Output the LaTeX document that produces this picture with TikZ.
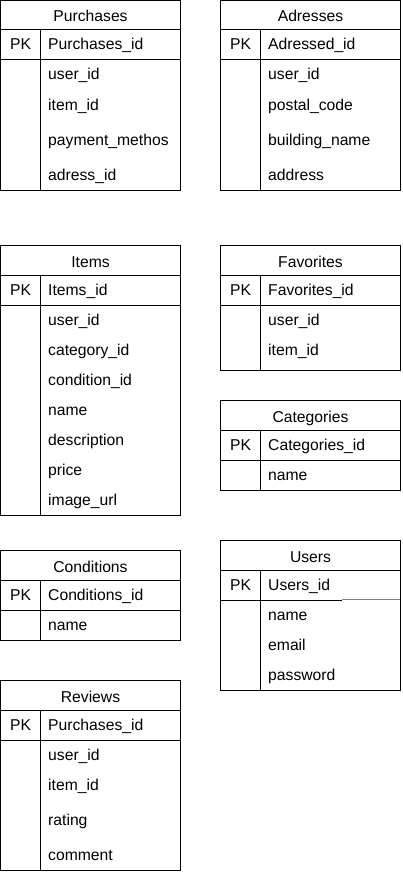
\documentclass[tikz,border=0pt]{standalone}
\usepackage{fontspec}
\setmainfont{Liberation Sans}
\usepackage{tikz}

\begin{document}
\begin{tikzpicture}[x=1pt, y=-1pt, every node/.style={font=\fontsize{15.7}{18}\selectfont, inner sep=0pt}]
        \tikzset{tbox/.style={draw=black, line width=1pt}}
        \tikzset{title/.style={anchor=base}, pk/.style={anchor=base}, field/.style={anchor=base west}}
        \useasboundingbox (0,0) rectangle (402,891);
        % purchases
        \draw[tbox] (0.5,1) rectangle (180.5,190);
        \draw[tbox] (0.5,30) -- (180.5,30) (0.5,60) -- (180.5,60) (40.5,30) -- (40.5,190);
        \node[title] (purchases) at (90.5,22) {Purchases};
        \node[pk] (purchases-pk) at (20.5,50) {PK};
        \node[field] (purchases-id) at (48,50) {Purchases\_id};
        \foreach \f/\y [count=\i] in {user\_id/74, item\_id/104, payment\_methos/139, adress\_id/174}
          \node[field] (purchases-\i) at (48,\y+6) {\f};
        % adresses
        \draw[tbox] (220.5,1) rectangle (400.5,190);
        \draw[tbox] (220.5,30) -- (400.5,30) (220.5,60) -- (400.5,60) (260.5,30) -- (260.5,190);
        \node[title] (adresses) at (310.5,22) {Adresses};
        \node[pk] (adresses-pk) at (240.5,50) {PK};
        \node[field] (adresses-id) at (268,50) {Adressed\_id};
        \foreach \f/\y [count=\i] in {user\_id/74, postal\_code/104, building\_name/139, address/174}
          \node[field] (adresses-\i) at (268,\y+6) {\f};
        % items
        \draw[tbox] (0.5,245) rectangle (180.5,515);
        \draw[tbox] (0.5,275) -- (180.5,275) (0.5,305) -- (180.5,305) (40.5,275) -- (40.5,515);
        \node[title] (items) at (90.5,267) {Items};
        \node[pk] (items-pk) at (20.5,295) {PK};
        \node[field] (items-id) at (48,295) {Items\_id};
        \foreach \f/\y [count=\i] in {user\_id/319, category\_id/349, condition\_id/379, name/409, description/439, price/469, image\_url/499}
          \node[field] (items-\i) at (48,\y+6) {\f};
        % favorites
        \draw[tbox] (220.5,245) rectangle (400.5,370);
        \draw[tbox] (220.5,275) -- (400.5,275) (220.5,305) -- (400.5,305) (260.5,275) -- (260.5,370);
        \node[title] (favorites) at (310.5,267) {Favorites};
        \node[pk] (favorites-pk) at (240.5,295) {PK};
        \node[field] (favorites-id) at (268,295) {Favorites\_id};
        \foreach \f/\y [count=\i] in {user\_id/319, item\_id/349}
          \node[field] (favorites-\i) at (268,\y+6) {\f};
        % categories
        \draw[tbox] (220.5,400) rectangle (400.5,490);
        \draw[tbox] (220.5,430) -- (400.5,430) (220.5,460) -- (400.5,460) (260.5,430) -- (260.5,490);
        \node[title] (categories) at (310.5,422) {Categories};
        \node[pk] (categories-pk) at (240.5,450) {PK};
        \node[field] (categories-id) at (268,450) {Categories\_id};
        \node[field] (categories-1) at (268,480) {name};
        % conditions
        \draw[tbox] (0.5,550) rectangle (180.5,640);
        \draw[tbox] (0.5,580) -- (180.5,580) (0.5,610) -- (180.5,610) (40.5,580) -- (40.5,640);
        \node[title] (conditions) at (90.5,572) {Conditions};
        \node[pk] (conditions-pk) at (20.5,600) {PK};
        \node[field] (conditions-id) at (48,600) {Conditions\_id};
        \node[field] (conditions-1) at (48,630) {name};
        % users
        \draw[tbox] (220.5,540) rectangle (400.5,690);
        \draw[tbox] (220.5,570) -- (400.5,570) (220.5,600) -- (342,600) (260.5,570) -- (260.5,690);
        \draw[tbox, draw=gray] (342,599) -- (400,599);
        \node[title] (users) at (310.5,562) {Users};
        \node[pk] (users-pk) at (240.5,590) {PK};
        \node[field] (users-id) at (268,590) {Users\_id};
        \foreach \f/\y [count=\i] in {name/614, email/644, password/674}
          \node[field] (users-\i) at (268,\y+6) {\f};
        % reviews
        \draw[tbox] (0.5,680) rectangle (180.5,870);
        \draw[tbox] (0.5,710) -- (180.5,710) (0.5,740) -- (180.5,740) (40.5,710) -- (40.5,870);
        \node[title] (reviews) at (90.5,702) {Reviews};
        \node[pk] (reviews-pk) at (20.5,730) {PK};
        \node[field] (reviews-id) at (48,730) {Purchases\_id};
        \foreach \f/\y [count=\i] in {user\_id/754, item\_id/784, rating/819, comment/854}
          \node[field] (reviews-\i) at (48,\y+6) {\f};
\end{tikzpicture}
\end{document}
